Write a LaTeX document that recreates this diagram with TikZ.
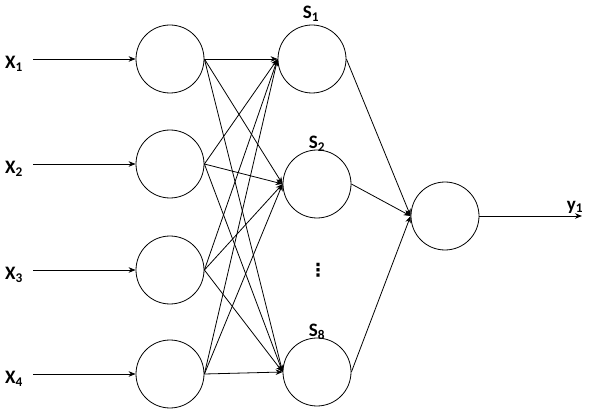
\documentclass[tikz,border=0pt]{standalone}
\usepackage{fontspec}
\setmainfont{Carlito}
\newfontfamily\symfont{DejaVu Sans}
\usetikzlibrary{arrows.meta}

\begin{document}
\begin{tikzpicture}[
  x=1pt, y=-1pt, every node/.style={font=\fontsize{19}{22}\selectfont\bfseries},
  neu/.style={circle, draw=black, line width=0.8pt, minimum size=68pt, inner sep=0pt},
  wire/.style={-{Stealth[length=7pt,width=5.5pt]}, line width=0.8pt},
  lbl/.style={inner sep=0pt},
]
\useasboundingbox (0,0) rectangle (590,409);
% ---------------- input layer ----------------
\node[neu] (in1) at (170,59)  {};
\node[neu] (in2) at (170,164) {};
\node[neu] (in3) at (170,270) {};
\node[neu] (in4) at (170,374) {};
\node[lbl] (x1) at (14,64)  {X\textsubscript{1}};
\node[lbl] (x2) at (14,169) {X\textsubscript{2}};
\node[lbl] (x3) at (14,275) {X\textsubscript{3}};
\node[lbl] (x4) at (14,379) {X\textsubscript{4}};
\foreach \i/\yy in {1/59,2/164,3/270,4/374}{
  \coordinate (src\i) at (33,\yy);
  \draw[wire] (src\i) -- (in\i.west);
}
% ---------------- hidden layer ----------------
\node[neu] (s1) at (312,59)  {};
\node[neu] (s2) at (317,184) {};
\node[neu] (s8) at (317,372) {};
\node[lbl] (ls1) at (311,14)  {S\textsubscript{1}};
\node[lbl] (ls2) at (317,144) {S\textsubscript{2}};
\node[lbl] (ls8) at (317,332) {S\textsubscript{8}};
\node[lbl] (dots) at (318,270) {\symfont\fontsize{18}{20}\selectfont ⋮};
\foreach \i in {1,2,3,4}
  \foreach \h in {s1,s2,s8}
    \draw[wire] (in\i.east) -- (\h.west);
% ---------------- output layer ----------------
\node[neu] (out) at (445,216) {};
\foreach \h in {s1,s2,s8}
  \draw[wire] (\h.east) -- (out.west);
\coordinate (dst) at (582,216);
\draw[wire] (out.east) -- (dst);
\node[lbl] (y1) at (575,207) {y\textsubscript{1}};
\end{tikzpicture}
\end{document}
